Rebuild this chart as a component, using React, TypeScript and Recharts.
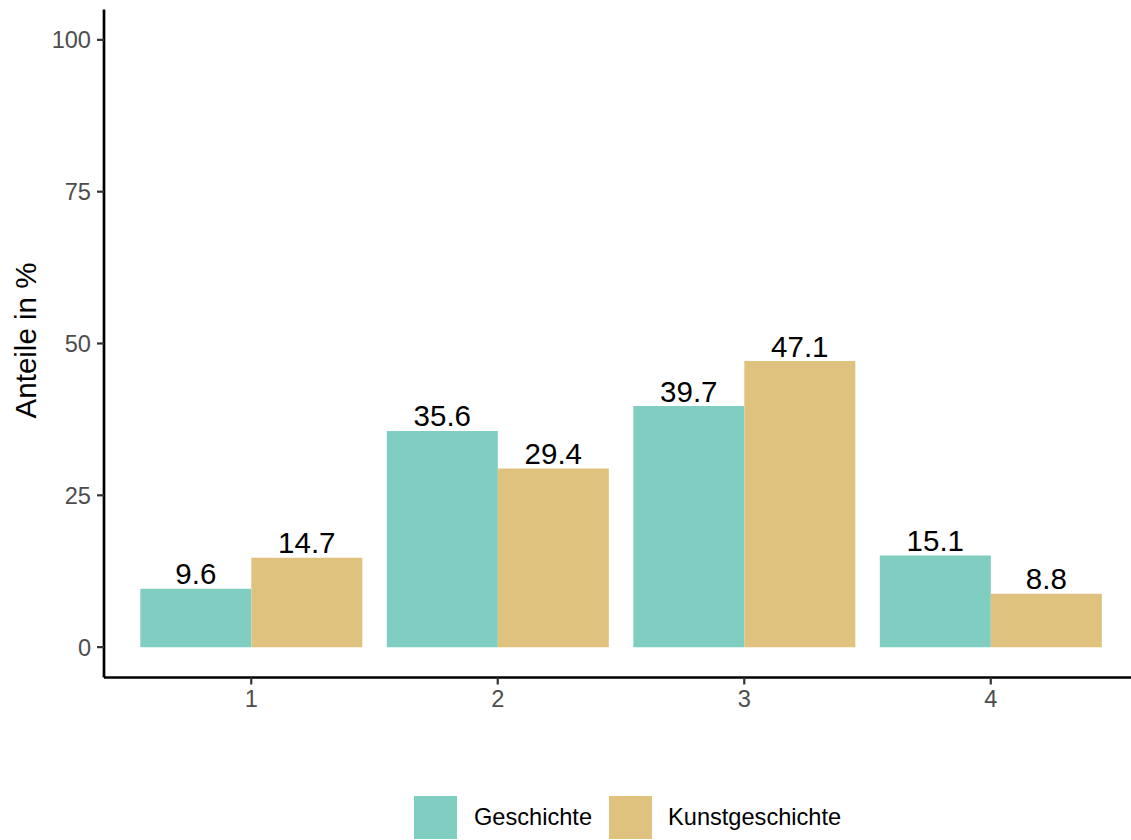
import React from 'react';
import { BarChart, Bar, XAxis, YAxis, Legend, LabelList, Label } from 'recharts';

const categories = ['1', '2', '3', '4'];
const geschichte = [9.6, 35.6, 39.7, 15.1];
const kunstgeschichte = [14.7, 29.4, 47.1, 8.8];
const yTicks = [0, 25, 50, 75, 100];
const seriesNames = ['Geschichte', 'Kunstgeschichte'];
const colors = ['#80CDC1', '#DFC27D'];

const data = categories.map((c, i) => ({
  cat: c,
  Geschichte: geschichte[i],
  Kunstgeschichte: kunstgeschichte[i],
}));

const FONT = '"Liberation Sans", Arial, Helvetica, sans-serif';

const LegendContent = () => (
  <div style={{ display: 'flex', alignItems: 'center', marginLeft: 414, height: 43, fontFamily: FONT }}>
    {seriesNames.map((n, i) => (
      <div key={n} style={{ display: 'flex', alignItems: 'center', marginRight: i === 0 ? 17 : 0 }}>
        <div style={{ width: 43, height: 43, background: colors[i], marginRight: i === 0 ? 17 : 16 }} />
        <span style={{ fontSize: 23.6, color: '#000', lineHeight: '43px' }}>{n}</span>
      </div>
    ))}
  </div>
);

const YTitle = (props: any) => {
  const vb = props.viewBox || { x: 0, y: 0, width: 0, height: 0 };
  const cx = vb.x + 25;
  const cy = vb.y + vb.height / 2 - 3;
  return (
    <text
      x={cx}
      y={cy}
      transform={`rotate(-90, ${cx}, ${cy})`}
      textAnchor="middle"
      dominantBaseline="central"
      fontSize={29.5}
      fill="#000"
      fontFamily={FONT}
    >
      Anteile in %
    </text>
  );
};

export default function App() {
  return (
    <div style={{ position: 'absolute', left: 0, top: 0, width: 1131, height: 840, background: '#fff' }}>
      <BarChart
        width={1131}
        height={840}
        data={data}
        margin={{ top: 9.5, right: 0, left: 0, bottom: 1 }}
        barCategoryGap="5%"
        barGap={0}
        style={{ fontFamily: FONT }}
      >
        <XAxis
          dataKey="cat"
          height={118.5}
          padding={{ left: 24, right: 17 }}
          tickSize={7}
          tickMargin={5.5}
          tick={{ fill: '#4D4D4D', fontSize: 23.6, fontFamily: FONT }}
          tickLine={{ stroke: '#333333', strokeWidth: 2.2 }}
          axisLine={{ stroke: '#000', strokeWidth: 2.7 }}
        />
        <YAxis
          width={104}
          type="number"
          domain={[-5, 105]}
          ticks={yTicks}
          allowDataOverflow
          tickSize={7}
          tickMargin={6}
          tick={{ fill: '#4D4D4D', fontSize: 23.6, fontFamily: FONT }}
          tickLine={{ stroke: '#333333', strokeWidth: 2.2 }}
          axisLine={{ stroke: '#000', strokeWidth: 2.7 }}
        >
          <Label content={<YTitle />} />
        </YAxis>
        <Legend verticalAlign="bottom" content={<LegendContent />} wrapperStyle={{ left: 0, width: 1131 }} />
        {seriesNames.map((n, i) => (
          <Bar key={n} dataKey={n} fill={colors[i]} isAnimationActive={false}>
            <LabelList dataKey={n} position="top" offset={4.5} fill="#000" fontSize={29.5} fontFamily={FONT} />
          </Bar>
        ))}
      </BarChart>
    </div>
  );
}
